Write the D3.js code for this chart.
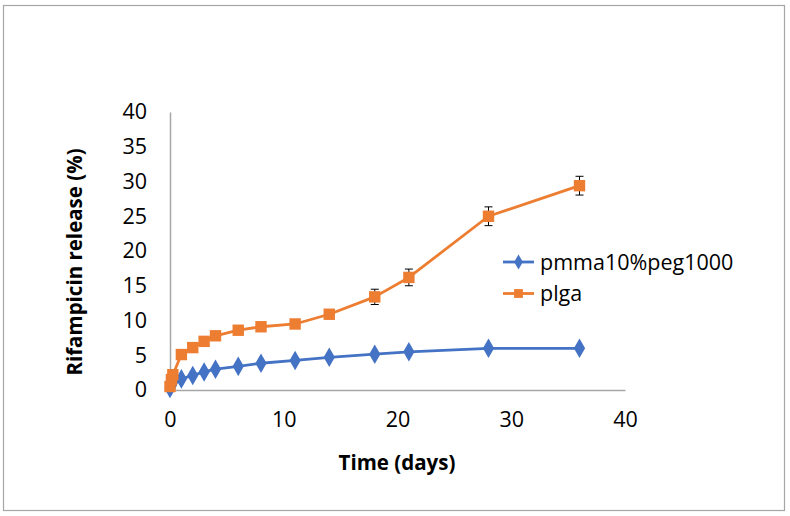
<!DOCTYPE html>
<html><head><meta charset="utf-8">
<script src="https://cdn.jsdelivr.net/npm/d3@7"></script>
<style>html,body{margin:0;padding:0;background:#fff;}svg{display:block;}</style>
</head><body>
<script>
const days = [0, 0.125, 0.25, 1, 2, 3, 4, 6, 8, 11, 14, 18, 21, 28, 36];
const pmmaValues = [0.2, 0.7, 1.1, 1.6, 2.1, 2.6, 3.0, 3.4, 3.85, 4.25, 4.7, 5.15, 5.5, 6.0, 6.0];
const pmmaErrors = [0, 0, 0, 0, 0, 0, 0, 0, 0, 0.1, 0.1, 0.1, 0.1, 0.1, 0.1];
const plgaValues = [0.5, 1.5, 2.2, 5.1, 6.1, 7.0, 7.8, 8.6, 9.1, 9.5, 10.9, 13.4, 16.2, 25.0, 29.4];
const plgaErrors = [0, 0, 0, 0, 0, 0, 0, 0.2, 0.2, 0.3, 0.6, 1.1, 1.2, 1.35, 1.35];
const seriesNames = ["pmma10%peg1000", "plga"];
const xTicks = [0, 10, 20, 30, 40];
const yTicks = [0, 5, 10, 15, 20, 25, 30, 35, 40];
const xTitle = "Time (days)";
const yTitle = "Rifampicin release (%)";

const W = 790, H = 516;
const colors = ["#4472C4", "#ED7D31"];
const font = "'Open Sans', 'Noto Sans', sans-serif";

const svg = d3.select("body").append("svg").attr("width", W).attr("height", H);
svg.append("rect").attr("x", 3.5).attr("y", 5.5).attr("width", 781).attr("height", 505)
  .attr("fill", "#fff").attr("stroke", "#A6A6A6").attr("stroke-width", 1.2);

const x = d3.scaleLinear().domain([0, 40]).range([170, 625]);
const y = d3.scaleLinear().domain([0, 40]).range([390, 112]);

// axes
const xAxis = svg.append("g").attr("transform", `translate(0,${y(0)})`)
  .call(d3.axisBottom(x).tickValues(xTicks).tickSize(0).tickPadding(22));
const yAxis = svg.append("g").attr("transform", `translate(${x(0)},0)`)
  .call(d3.axisLeft(y).tickValues(yTicks).tickSize(0).tickPadding(23));
[xAxis, yAxis].forEach(g => {
  g.select(".domain").attr("stroke", "#A6A6A6").attr("stroke-width", 1.5);
  g.selectAll("text").attr("font-family", font).attr("font-size", 21.5).attr("fill", "#000");
});
xAxis.selectAll("text").attr("dy", "0.71em");

// titles
svg.append("text").attr("x", 397).attr("y", 470).attr("text-anchor", "middle")
  .attr("font-family", font).attr("font-weight", "bold").attr("font-size", 20.5).text(xTitle);
svg.append("text").attr("transform", "translate(82,262) rotate(-90)").attr("text-anchor", "middle")
  .attr("font-family", font).attr("font-weight", "bold").attr("font-size", 20.5).text(yTitle);

const series = [
  {name: seriesNames[0], values: pmmaValues, errors: pmmaErrors, color: colors[0], sym: d3.symbolDiamond, size: 110},
  {name: seriesNames[1], values: plgaValues, errors: plgaErrors, color: colors[1], sym: d3.symbolSquare, size: 130}
];

const line = d3.line().x(d => x(d[0])).y(d => y(d[1]));

series.forEach(s => {
  const pts = days.map((d, i) => [d, s.values[i], s.errors[i]]);
  svg.append("path").datum(pts).attr("d", line).attr("fill", "none")
    .attr("stroke", s.color).attr("stroke-width", 2.8).attr("stroke-linejoin", "round");
  // error bars
  const eb = svg.append("g").attr("stroke", "#000").attr("stroke-width", 1);
  pts.filter(p => p[2] > 0).forEach(p => {
    eb.append("line").attr("x1", x(p[0])).attr("x2", x(p[0])).attr("y1", y(p[1] - p[2])).attr("y2", y(p[1] + p[2]));
    [p[1] - p[2], p[1] + p[2]].forEach(v => {
      eb.append("line").attr("x1", x(p[0]) - 4).attr("x2", x(p[0]) + 4).attr("y1", y(v)).attr("y2", y(v));
    });
  });
  svg.append("g").selectAll("path").data(pts).join("path")
    .attr("transform", d => `translate(${x(d[0])},${y(d[1])})`)
    .attr("d", d3.symbol().type(s.sym).size(s.size)).attr("fill", s.color);
});

// legend
const legend = svg.append("g");
series.forEach((s, i) => {
  const ly = 262 + i * 31.5;
  legend.append("line").attr("x1", 503).attr("x2", 534).attr("y1", ly).attr("y2", ly)
    .attr("stroke", s.color).attr("stroke-width", 2.8);
  legend.append("path").attr("transform", `translate(518.5,${ly})`)
    .attr("d", d3.symbol().type(s.sym).size(s.size * 0.6)).attr("fill", s.color);
  legend.append("text").attr("x", 540).attr("y", ly).attr("dy", "0.35em")
    .attr("font-family", font).attr("font-size", 21.5).text(s.name);
});
</script>
</body></html>
